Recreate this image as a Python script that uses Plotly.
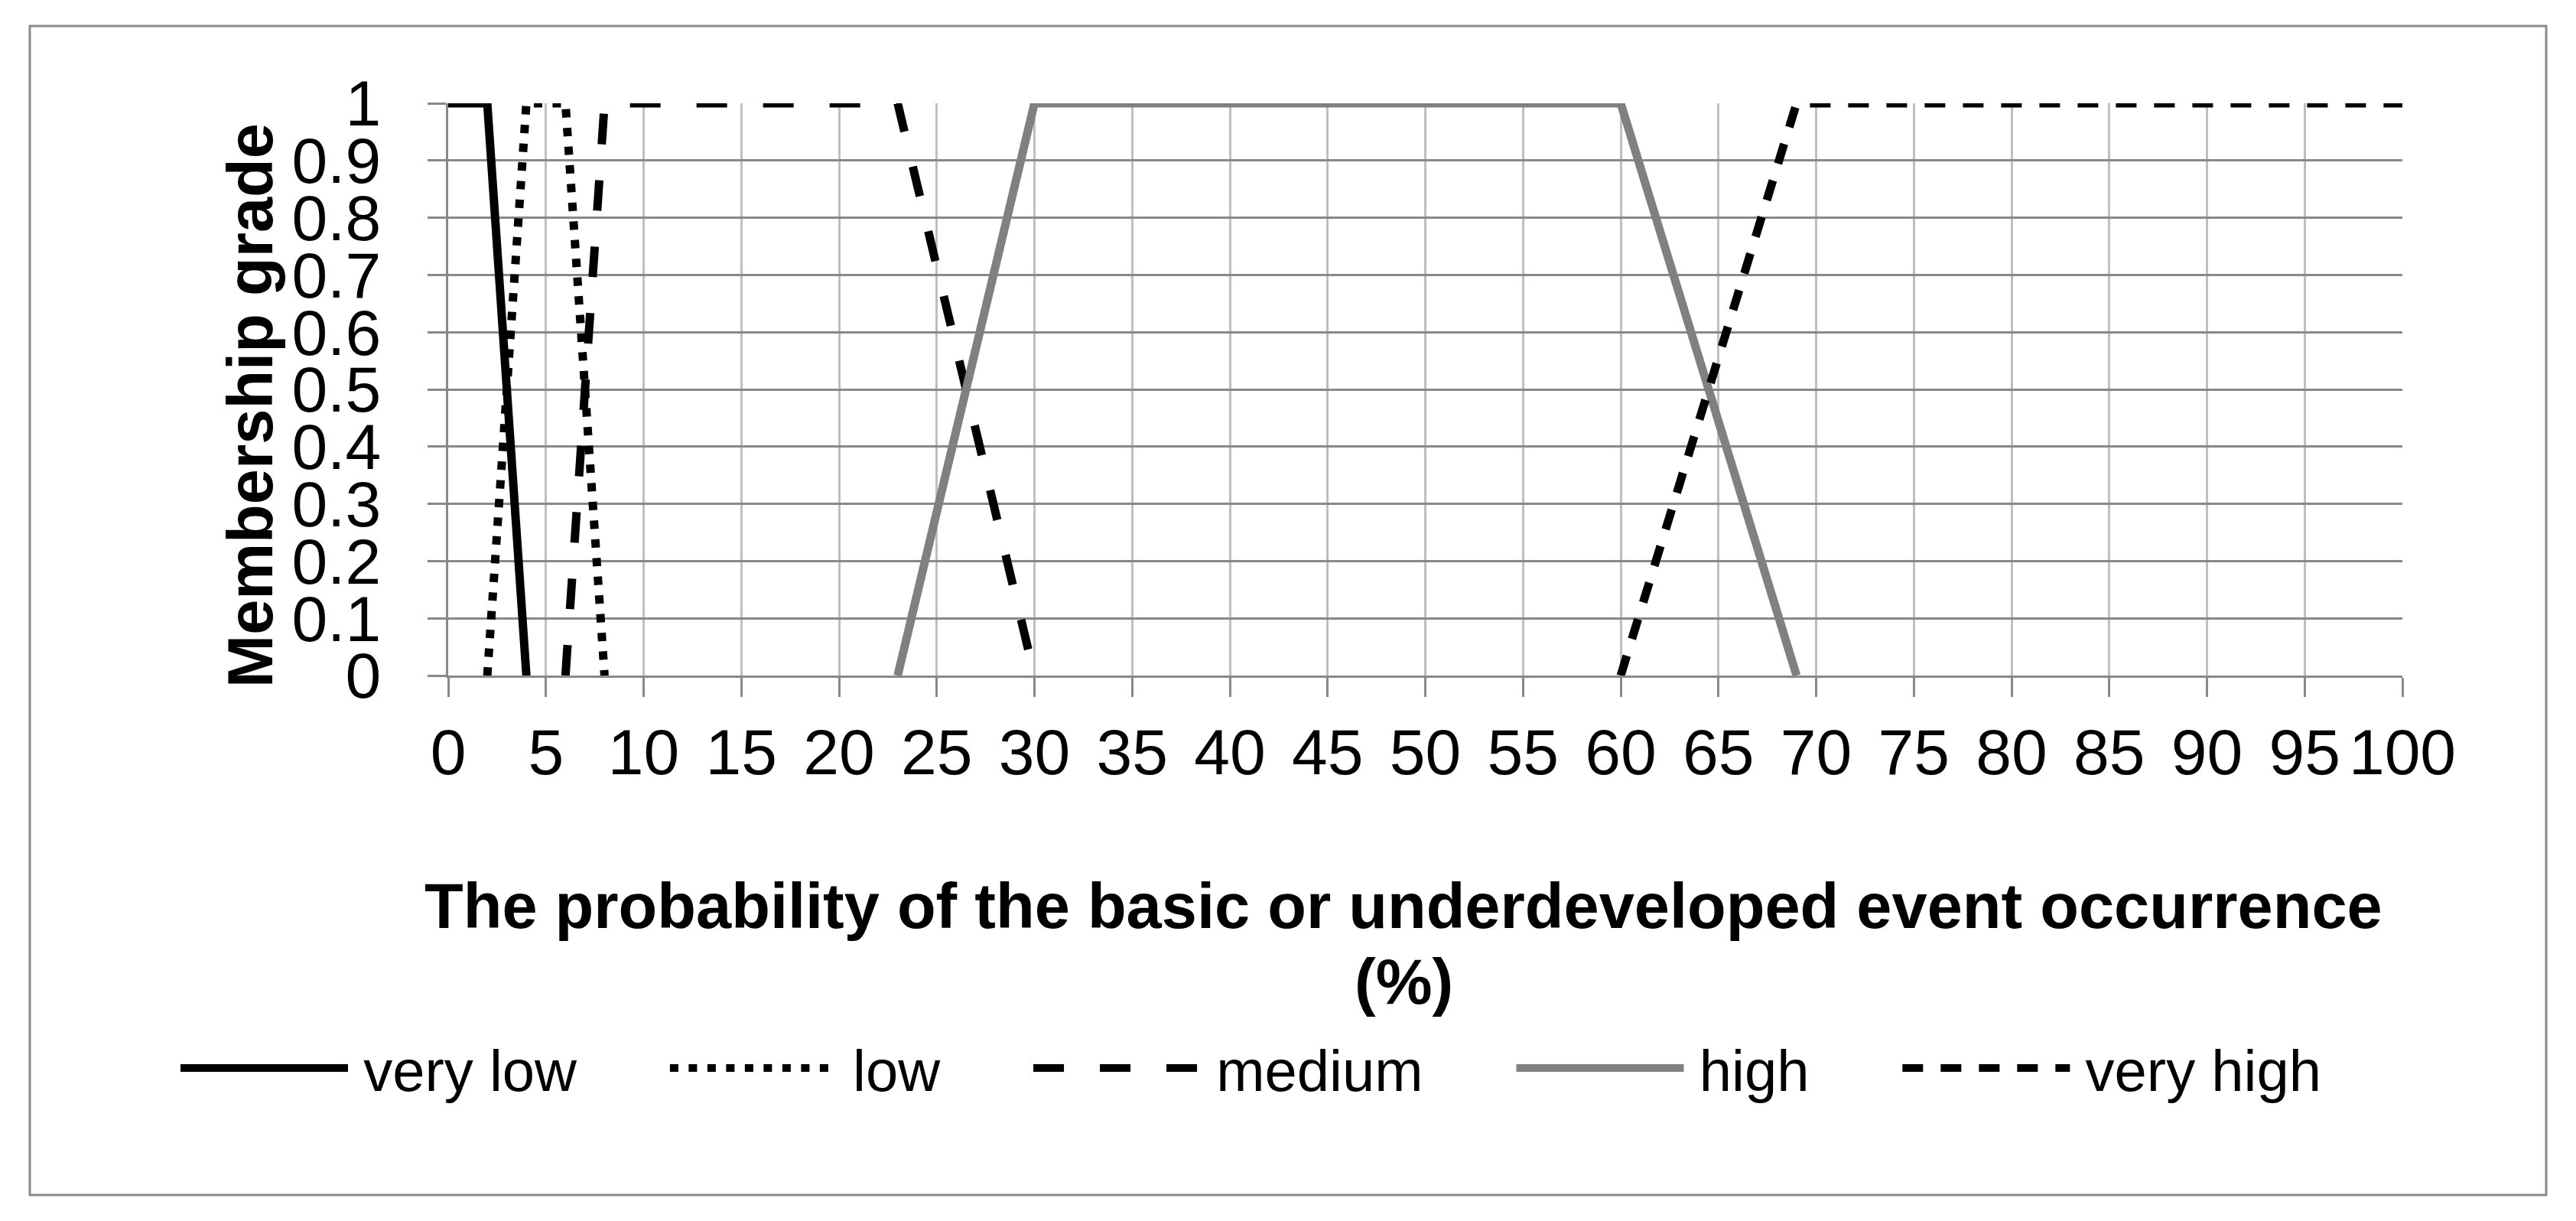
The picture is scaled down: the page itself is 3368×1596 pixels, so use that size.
import plotly.graph_objects as go

# membership functions (x in %, y = grade)
x_very_low = [0, 2, 4]
y_very_low = [1, 1, 0]
x_low = [2, 4, 6, 8]
y_low = [0, 1, 1, 0]
x_medium = [6, 8, 23, 30]
y_medium = [0, 1, 1, 0]
x_high = [23, 30, 60, 69]
y_high = [0, 1, 1, 0]
x_very_high = [60, 69, 100]
y_very_high = [0, 1, 1]

names = ["very low", "low", "medium", "high", "very high"]

x_ticks = list(range(0, 101, 5))
y_ticks = [0, 0.1, 0.2, 0.3, 0.4, 0.5, 0.6, 0.7, 0.8, 0.9, 1]
y_tick_text = ["0", "0.1", "0.2", "0.3", "0.4", "0.5", "0.6", "0.7", "0.8", "0.9", "1"]

x_title = "The probability of the basic or underdeveloped event occurrence"
x_title2 = "(%)"
y_title = "Membership grade"

OFF = 8  # default body margin of the html page
W, H = 3368 - OFF, 1596 - OFF
# plot area, in page pixels
PL, PR, PT, PB = 586 - OFF, 3141 - OFF, 135 - OFF, 883 - OFF
FONT = "Liberation Sans, Arial, sans-serif"
GRID_DARK = "#898989"
GRID_LIGHT = "#bfbfbf"


def px(x):
    return (x - OFF - PL) / (PR - PL)


def py(y):
    return (PB - (y - OFF)) / (PB - PT)


NB = "\u00a0"
THIN = "\u2009"
tail = NB * 5 + "\u200a"

fig = go.Figure()
series = [
    (x_very_low, y_very_low, "#000000", 11, "solid"),
    (x_low, y_low, "#000000", 11, "11px,13.5px"),
    (x_medium, y_medium, "#000000", 11, "40px,47px"),
    (x_high, y_high, "#808080", 11, "solid"),
    (x_very_high, y_very_high, "#000000", 11, "27px,23px"),
]
for (xs, ys, col, w, dash), nm in zip(series, names):
    fig.add_trace(go.Scatter(x=xs, y=ys, mode="lines", name=THIN + nm + tail,
                             line=dict(color=col, width=w, dash=dash)))

fig.update_xaxes(range=[0, 100], tickvals=x_ticks, ticks="outside", ticklen=25,
                 tickwidth=3, tickcolor=GRID_DARK, showgrid=True, gridcolor=GRID_LIGHT,
                 gridwidth=3, showline=True, linecolor=GRID_DARK, linewidth=3,
                 zeroline=False, tickfont=dict(size=84, color="black", family=FONT))
fig.update_yaxes(range=[0, 1], tickvals=y_ticks, ticktext=y_tick_text, ticks="outside",
                 ticklen=24, tickwidth=3, tickcolor=GRID_DARK, showgrid=True,
                 gridcolor=GRID_DARK, gridwidth=3, showline=True, linecolor=GRID_DARK,
                 linewidth=3, zeroline=False, ticklabelstandoff=44,
                 tickfont=dict(size=84, color="black", family=FONT))

fig.add_annotation(text="<b>" + x_title + "</b>", xref="paper", yref="paper",
                   x=px(1835), y=py(1184), showarrow=False, xanchor="center", yanchor="middle",
                   font=dict(size=83, color="black", family=FONT))
fig.add_annotation(text="<b>" + x_title2 + "</b>", xref="paper", yref="paper",
                   x=px(1835), y=py(1283), showarrow=False, xanchor="center", yanchor="middle",
                   font=dict(size=83, color="black", family=FONT))
fig.add_annotation(text="<b>" + y_title + "</b>", xref="paper", yref="paper",
                   x=px(327), y=py(530), showarrow=False, textangle=-90,
                   xanchor="center", yanchor="middle",
                   font=dict(size=83, color="black", family=FONT))

# outer chart border
fig.add_shape(type="rect", xref="paper", yref="paper", x0=px(39), x1=px(3329),
              y0=py(1562), y1=py(34), line=dict(color=GRID_DARK, width=3))

fig.update_layout(
    width=W, height=H,
    margin=dict(l=PL, r=W - PR, t=PT, b=H - PB),
    paper_bgcolor="white", plot_bgcolor="white",
    font=dict(family=FONT, color="black"),
    showlegend=True,
    legend=dict(orientation="h", x=px(231), y=py(1396), xanchor="left", yanchor="middle",
                itemwidth=219, font=dict(size=76, color="black", family=FONT),
                bgcolor="rgba(0,0,0,0)", tracegroupgap=0),
)

fig.write_html("out.html")
